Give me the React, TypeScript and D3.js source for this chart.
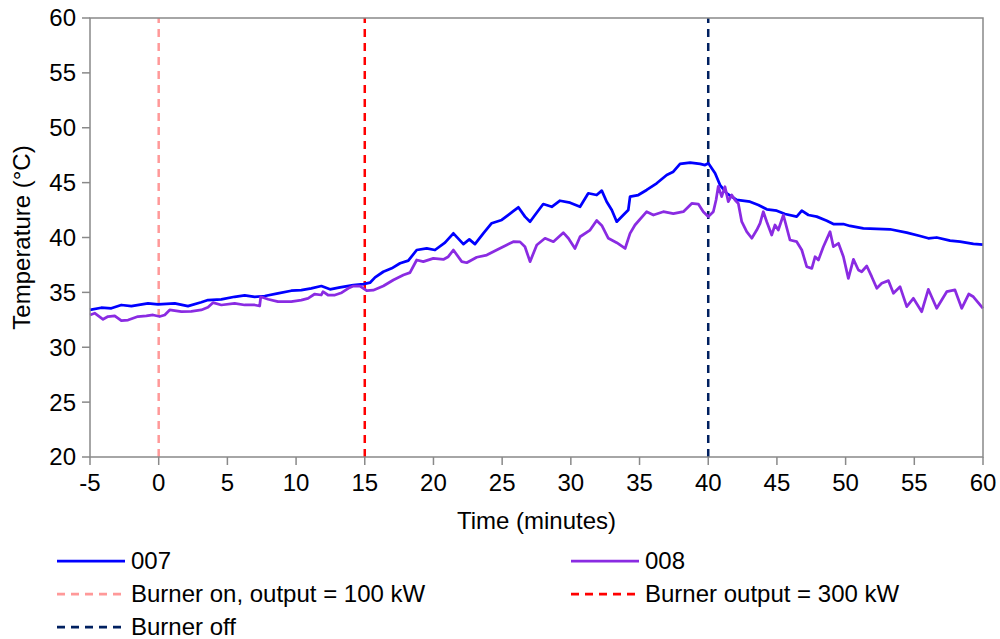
import React from "react";
import * as d3 from "d3";

// ---------- data ----------
const time007 = [-5.0, -4.18, -3.45, -2.72, -1.99, -0.78, -0.05, 1.17, 2.13, 3.1, 3.59, 4.56, 5.53, 6.26, 6.99, 7.72, 8.68, 9.65, 10.38, 11.11, 11.84, 12.47, 13.2, 14.17, 14.9, 15.38, 15.75, 16.35, 16.96, 17.57, 18.17, 18.78, 19.51, 20.11, 20.84, 21.45, 22.18, 22.61, 23.02, 23.63, 24.24, 24.97, 25.81, 26.18, 26.66, 27.03, 27.39, 27.99, 28.61, 29.21, 29.94, 30.67, 31.27, 31.88, 32.25, 32.61, 32.98, 33.34, 33.82, 34.18, 34.31, 34.91, 35.52, 36.25, 36.98, 37.46, 37.95, 38.68, 39.41, 39.77, 40.01, 40.5, 40.86, 41.35, 42.07, 43.04, 43.65, 44.26, 44.99, 45.59, 46.44, 46.81, 47.29, 47.9, 48.63, 49.11, 49.83, 50.32, 51.29, 53.23, 54.45, 55.42, 56.02, 56.63, 57.6, 58.33, 59.3, 60.0];
const temp007 = [33.4, 33.6, 33.55, 33.85, 33.75, 34.0, 33.9, 34.0, 33.75, 34.1, 34.3, 34.37, 34.6, 34.73, 34.6, 34.67, 34.9, 35.15, 35.2, 35.37, 35.58, 35.28, 35.46, 35.67, 35.76, 35.88, 36.37, 36.88, 37.19, 37.65, 37.89, 38.86, 39.0, 38.86, 39.53, 40.38, 39.4, 39.83, 39.4, 40.38, 41.3, 41.6, 42.4, 42.75, 41.9, 41.44, 42.05, 43.05, 42.8, 43.35, 43.17, 42.8, 44.03, 43.87, 44.27, 43.26, 42.5, 41.44, 42.05, 42.5, 43.72, 43.87, 44.33, 44.94, 45.7, 46.0, 46.7, 46.82, 46.7, 46.6, 46.76, 45.85, 44.78, 44.03, 43.42, 43.26, 42.96, 42.57, 42.44, 42.14, 41.9, 42.44, 42.05, 41.9, 41.53, 41.23, 41.23, 41.05, 40.84, 40.75, 40.44, 40.14, 39.93, 40.0, 39.71, 39.62, 39.41, 39.35];

const time008 = [-5.0, -4.66, -4.05, -3.69, -3.2, -2.72, -2.23, -1.51, -0.9, -0.41, 0.07, 0.44, 0.8, 1.65, 2.37, 3.1, 3.59, 3.95, 4.56, 5.53, 6.26, 6.99, 7.35, 7.43, 7.96, 8.68, 9.65, 10.38, 10.87, 11.36, 11.84, 11.96, 12.32, 12.83, 13.32, 13.8, 14.17, 14.65, 15.14, 15.62, 16.35, 17.08, 17.81, 18.29, 18.78, 19.26, 19.99, 20.72, 21.08, 21.45, 22.06, 22.42, 23.15, 23.88, 24.6, 25.33, 25.81, 26.3, 26.66, 27.03, 27.52, 28.12, 28.73, 29.45, 29.82, 30.3, 30.67, 31.4, 31.88, 32.25, 32.73, 33.34, 33.95, 34.31, 34.67, 35.52, 36.01, 36.73, 37.46, 38.19, 38.8, 39.28, 39.64, 40.01, 40.37, 40.57, 40.73, 40.98, 41.22, 41.46, 41.71, 41.95, 42.19, 42.44, 42.8, 43.17, 43.53, 43.77, 44.01, 44.26, 44.62, 44.86, 45.1, 45.47, 45.95, 46.44, 46.81, 47.17, 47.54, 47.78, 48.02, 48.38, 48.87, 49.11, 49.48, 49.84, 50.2, 50.57, 50.93, 51.17, 51.54, 51.9, 52.27, 52.63, 53.12, 53.48, 53.96, 54.45, 54.93, 55.54, 56.02, 56.63, 57.36, 57.96, 58.45, 58.96, 59.3, 60.0];
const temp008 = [32.94, 33.1, 32.55, 32.8, 32.85, 32.42, 32.48, 32.8, 32.85, 32.94, 32.8, 32.94, 33.4, 33.24, 33.27, 33.4, 33.64, 34.06, 33.85, 34.0, 33.85, 33.85, 33.76, 34.6, 34.37, 34.15, 34.15, 34.3, 34.46, 34.85, 34.76, 35.06, 34.76, 34.76, 34.97, 35.37, 35.58, 35.58, 35.15, 35.2, 35.58, 36.13, 36.58, 36.8, 37.95, 37.8, 38.1, 38.0, 38.25, 38.86, 37.8, 37.7, 38.2, 38.4, 38.86, 39.32, 39.62, 39.6, 39.16, 37.8, 39.32, 39.93, 39.62, 40.44, 39.93, 39.0, 40.07, 40.68, 41.55, 41.1, 39.93, 39.53, 39.0, 40.38, 41.14, 42.35, 42.05, 42.35, 42.17, 42.35, 43.1, 43.05, 42.35, 41.9, 42.35, 43.42, 44.66, 43.72, 44.63, 43.26, 43.87, 43.42, 43.1, 41.44, 40.53, 39.93, 40.68, 41.29, 42.35, 41.44, 40.23, 41.14, 40.68, 42.05, 39.77, 39.62, 38.86, 37.34, 37.19, 38.25, 37.95, 39.16, 40.53, 39.16, 39.47, 38.25, 36.28, 38.0, 37.04, 36.88, 37.4, 36.43, 35.37, 35.83, 36.07, 34.92, 35.52, 33.7, 34.46, 33.24, 35.28, 33.55, 35.06, 35.22, 33.55, 34.85, 34.6, 33.55];

const seriesNames = ["007", "008"];
const seriesColors = ["#0000FF", "#8A2BE2"];

const eventTimes = [0, 15, 40];
const eventLabels = ["Burner on, output = 100 kW", "Burner output = 300 kW", "Burner off"];
const eventColors = ["#FF9999", "#FF0000", "#002060"];

const xTicks = [-5, 0, 5, 10, 15, 20, 25, 30, 35, 40, 45, 50, 55, 60];
const yTicks = [20, 25, 30, 35, 40, 45, 50, 55, 60];

const xTitle = "Time (minutes)";
const yTitle = "Temperature (°C)";

// ---------- layout ----------
const W = 1000;
const H = 639;
const M = { left: 90, right: 983, top: 18, bottom: 457 };
const FONT = "Arial, 'Liberation Sans', sans-serif";
const AXIS = "#898989";
const FS = 24;

export default function App() {
  const x = d3.scaleLinear().domain([-5, 60]).range([M.left, M.right]);
  const y = d3.scaleLinear().domain([20, 60]).range([M.bottom, M.top]);

  const line = d3
    .line<[number, number]>()
    .x((d) => x(d[0]))
    .y((d) => y(d[1]));

  const s007 = time007.map((t, i) => [t, temp007[i]] as [number, number]);
  const s008 = time008.map((t, i) => [t, temp008[i]] as [number, number]);
  const series = [s007, s008];

  const legendRows = [
    { label: seriesNames[0], color: seriesColors[0], dash: null, lx: 57, ly: 561 },
    { label: seriesNames[1], color: seriesColors[1], dash: null, lx: 571, ly: 561 },
    { label: eventLabels[0], color: eventColors[0], dash: "8,6", lx: 57, ly: 594 },
    { label: eventLabels[1], color: eventColors[1], dash: "8,6", lx: 571, ly: 594 },
    { label: eventLabels[2], color: eventColors[2], dash: "8,6", lx: 57, ly: 627 },
  ];

  return (
    <svg
      width={W}
      height={H}
      style={{ position: "absolute", left: 0, top: 0, background: "#fff" }}
      fontFamily={FONT}
    >
      <rect x={0} y={0} width={W} height={H} fill="#fff" />

      {/* event lines */}
      {eventTimes.map((t, i) => (
        <line
          key={"ev" + i}
          x1={x(t)}
          x2={x(t)}
          y1={y(20)}
          y2={y(60)}
          stroke={eventColors[i]}
          strokeWidth={2.5}
          strokeDasharray="8,6"
        />
      ))}

      {/* series */}
      {series.map((s, i) => (
        <path
          key={"s" + i}
          d={line(s) || ""}
          fill="none"
          stroke={seriesColors[i]}
          strokeWidth={2.75}
          strokeLinejoin="round"
        />
      ))}

      {/* plot frame */}
      <rect
        x={M.left}
        y={M.top}
        width={M.right - M.left}
        height={M.bottom - M.top}
        fill="none"
        stroke={AXIS}
        strokeWidth={1.5}
      />

      {/* y ticks */}
      {yTicks.map((v) => (
        <g key={"y" + v}>
          <line x1={M.left - 8} x2={M.left} y1={y(v)} y2={y(v)} stroke={AXIS} strokeWidth={1.5} />
          <text x={M.left - 14} y={y(v)} dy="0.35em" textAnchor="end" fontSize={FS} fill="#000">
            {v}
          </text>
        </g>
      ))}

      {/* x ticks */}
      {xTicks.map((v) => (
        <g key={"x" + v}>
          <line x1={x(v)} x2={x(v)} y1={M.bottom} y2={M.bottom + 8} stroke={AXIS} strokeWidth={1.5} />
          <text x={x(v)} y={483} dy="0.35em" textAnchor="middle" fontSize={FS} fill="#000">
            {v}
          </text>
        </g>
      ))}

      {/* axis titles */}
      <text x={(M.left + M.right) / 2} y={521} dy="0.35em" textAnchor="middle" fontSize={FS} fill="#000">
        {xTitle}
      </text>
      <text
        transform={`translate(22,${(M.top + M.bottom) / 2}) rotate(-90)`}
        dy="0.35em"
        textAnchor="middle"
        fontSize={FS}
        fill="#000"
      >
        {yTitle}
      </text>

      {/* legend */}
      {legendRows.map((r, i) => (
        <g key={"lg" + i}>
          <line
            x1={r.lx}
            x2={r.lx + 68}
            y1={r.ly}
            y2={r.ly}
            stroke={r.color}
            strokeWidth={2.75}
            strokeDasharray={r.dash || undefined}
          />
          <text x={r.lx + 74} y={r.ly} dy="0.35em" fontSize={FS} fill="#000">
            {r.label}
          </text>
        </g>
      ))}
    </svg>
  );
}
